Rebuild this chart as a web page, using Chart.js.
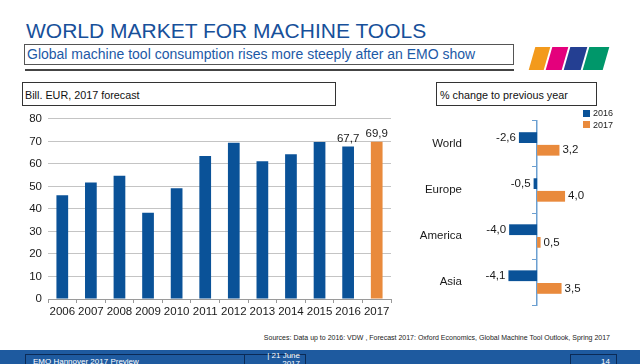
<!DOCTYPE html>
<html>
<head>
<meta charset="utf-8">
<script src="https://cdn.jsdelivr.net/npm/chart.js@4.4.1/dist/chart.umd.min.js"></script>
<style>
  body { margin: 0; background: #fff; font-family: 'Liberation Sans', Arial, sans-serif; }
  #page { position: relative; width: 640px; height: 364px; overflow: hidden; background: #fff; }
  .abs { position: absolute; }
  #title { left: 26px; top: 20px; font-size: 21px; line-height: 21px; color: #17509a; white-space: nowrap; }
  #subBox { left: 24px; top: 44px; width: 490px; height: 21px; border: 1.5px solid #555; box-sizing: border-box; }
  #subtitle { left: 27px; top: 47px; font-size: 14px; line-height: 14px; color: #1c59a6; white-space: nowrap; }
  #rule { left: 25px; top: 69px; width: 489px; height: 2px; background: #444; }
  .logo { top: 47px; height: 23px; transform: skewX(-16deg); }
  .box { border: 1px solid #333; box-sizing: border-box; height: 24px; top: 82px; }
  .boxText { font-size: 10.8px; line-height: 11px; color: #111; white-space: nowrap; top: 90px; }
  #legend { left: 583px; top: 108px; font-size: 9px; line-height: 11.5px; color: #222; }
  #legend .sw { display: inline-block; width: 7px; height: 7px; margin-right: 3px; vertical-align: -0.5px; }
  #sources { right: 30px; top: 334px; font-size: 7px; line-height: 8px; color: #222; white-space: nowrap; }
  #band { left: 0; top: 350px; width: 640px; height: 14px; background: #1e5a9f; }
  .fbox { top: 354px; height: 14px; border: 1px solid #0b2a55; box-sizing: border-box; color: #fff; font-size: 8px; line-height: 9px; white-space: nowrap; }
</style>
</head>
<body>
<div id="page">
  <div id="title" class="abs">WORLD MARKET FOR MACHINE TOOLS</div>
  <div id="subBox" class="abs"></div>
  <div id="subtitle" class="abs">Global machine tool consumption rises more steeply after an EMO show</div>
  <div id="rule" class="abs"></div>
  <div class="abs logo" style="left:532px;width:15px;background:#f39a1c"></div>
  <div class="abs logo" style="left:549px;width:16px;background:#e4007c"></div>
  <div class="abs logo" style="left:567px;width:17px;background:#243f92"></div>
  <div class="abs logo" style="left:586px;width:20px;background:#00976a"></div>

  <div class="abs box" style="left:22px;width:314px"></div>
  <div class="abs boxText" style="left:25px">Bill. EUR, 2017 forecast</div>
  <div class="abs box" style="left:436px;width:161px"></div>
  <div class="abs boxText" style="left:440px">% change to previous year</div>

  <canvas id="market" class="abs" width="400" height="214" style="left:0;top:106px"></canvas>
  <canvas id="change" class="abs" width="240" height="214" style="left:400px;top:106px"></canvas>
  <div id="legend" class="abs"></div>

  <div id="sources" class="abs">Sources: Data up to 2016: VDW , Forecast 2017: Oxford Economics, Global Machine Tool Outlook, Spring 2017</div>
  <div id="band" class="abs"></div>
  <div class="abs fbox" style="left:25px;width:220px;padding:2px 0 0 7px">EMO Hannover 2017 Preview</div>
  <div class="abs fbox" style="left:244px;width:62px;text-align:right;padding-right:5px;line-height:8px;top:354px">
    <div style="margin-top:-3px">| 21 June</div><div>2017</div>
  </div>
  <div class="abs fbox" style="left:570px;width:47px;text-align:right;padding:2px 6px 0 0">14</div>
</div>

<script>
// left chart: machine tool consumption, bill. EUR
const years = ['2006', '2007', '2008', '2009', '2010', '2011', '2012', '2013', '2014', '2015', '2016', '2017']
const marketValues = [46.1, 51.8, 54.8, 38.3, 49.2, 63.5, 69.4, 61.2, 64.3, 69.7, 67.7, 69.9]
const forecastYears = ['2017']
const labelledYears = ['2016', '2017']

// right chart: % change to previous year
const regions = ['World', 'Europe', 'America', 'Asia']
const change2016 = [-2.6, -0.5, -4.0, -4.1]
const change2017 = [3.2, 4.0, 0.5, 3.5]

const BLUE = '#0a5298'
const ORANGE = '#e98a3c'
const TEXT = '#1a1a1a'

Chart.defaults.font.family = "'Liberation Sans', Arial, sans-serif"
Chart.defaults.color = TEXT

const fmt = v => v.toFixed(1).replace('.', ',')

// draws the value next to each bar (comma decimals like the slide)
const valueLabels = {
  id: 'valueLabels',
  afterDatasetsDraw(chart, args, opts) {
    const ctx = chart.ctx
    const horizontal = chart.options.indexAxis === 'y'
    ctx.save()
    ctx.font = opts.font
    ctx.fillStyle = TEXT
    chart.data.datasets.forEach((ds, di) => {
      chart.getDatasetMeta(di).data.forEach((bar, i) => {
        if (opts.only && !opts.only.includes(chart.data.labels[i])) return
        const v = ds.data[i]
        if (horizontal) {
          ctx.textBaseline = 'middle'
          ctx.textAlign = v < 0 ? 'right' : 'left'
          ctx.fillText(fmt(v), bar.x + (v < 0 ? -3 : 3), bar.y)
        } else {
          ctx.textBaseline = 'bottom'
          ctx.textAlign = 'center'
          ctx.fillText(fmt(v), bar.x, bar.y - 2)
        }
      })
    })
    ctx.restore()
  }
}

new Chart(document.getElementById('market'), {
  type: 'bar',
  data: {
    labels: years,
    datasets: [{
      data: marketValues,
      backgroundColor: years.map(y => forecastYears.includes(y) ? ORANGE : BLUE),
      barPercentage: 0.41,
      categoryPercentage: 1,
    }],
  },
  plugins: [valueLabels],
  options: {
    responsive: false,
    animation: false,
    layout: { padding: { top: 8, right: 9, bottom: 0, left: 0 } },
    scales: {
      y: {
        min: 0,
        max: 80,
        ticks: { stepSize: 10, font: { size: 11.5 }, padding: 6 },
        grid: { color: '#c4c4c4', drawTicks: false },
        border: { display: false },
        afterFit: s => { s.width = 48 },
      },
      x: {
        grid: { drawOnChartArea: false, offset: true, tickLength: 4, color: '#9a9a9a' },
        border: { color: '#9a9a9a' },
        ticks: { font: { size: 11.5 }, padding: 2, maxRotation: 0, autoSkip: false },
        afterFit: s => { s.height = 21 },
      },
    },
    plugins: {
      legend: { display: false },
      tooltip: { enabled: false },
      valueLabels: { font: "11.5px 'Liberation Sans', Arial, sans-serif", only: labelledYears },
    },
  },
})

const changeChart = new Chart(document.getElementById('change'), {
  type: 'bar',
  data: {
    labels: regions,
    datasets: [
      { label: '2016', data: change2016, backgroundColor: BLUE },
      { label: '2017', data: change2017, backgroundColor: ORANGE },
    ],
  },
  plugins: [valueLabels],
  options: {
    indexAxis: 'y',
    responsive: false,
    animation: false,
    datasets: { bar: { categoryPercentage: 0.55, barPercentage: 0.85 } },
    layout: { padding: { top: 12, right: 40, bottom: 13, left: 0 } },
    scales: {
      x: { min: -9.6, max: 9, display: false },
      y: {
        position: 'left',
        ticks: { font: { size: 11.5 }, padding: 8 },
        grid: { display: false, drawTicks: false },
        border: { display: false },
        afterFit: s => { s.width = 70 },
      },
      // zero line with the small category ticks
      y2: {
        type: 'category',
        labels: regions,
        position: { x: 0 },
        offset: true,
        ticks: { display: false },
        grid: { drawOnChartArea: false, offset: true, tickLength: 4, color: '#6b9fd1' },
        border: { color: '#6b9fd1', width: 1.5 },
      },
    },
    plugins: {
      legend: { display: false },
      tooltip: { enabled: false },
      valueLabels: { font: "11.5px 'Liberation Sans', Arial, sans-serif" },
    },
  },
})

// legend stacked top right, built from the datasets
const legend = document.getElementById('legend')
changeChart.data.datasets.forEach(ds => {
  const row = document.createElement('div')
  const sw = document.createElement('span')
  sw.className = 'sw'
  sw.style.background = ds.backgroundColor
  row.appendChild(sw)
  row.appendChild(document.createTextNode(ds.label))
  legend.appendChild(row)
})
</script>
</body>
</html>
